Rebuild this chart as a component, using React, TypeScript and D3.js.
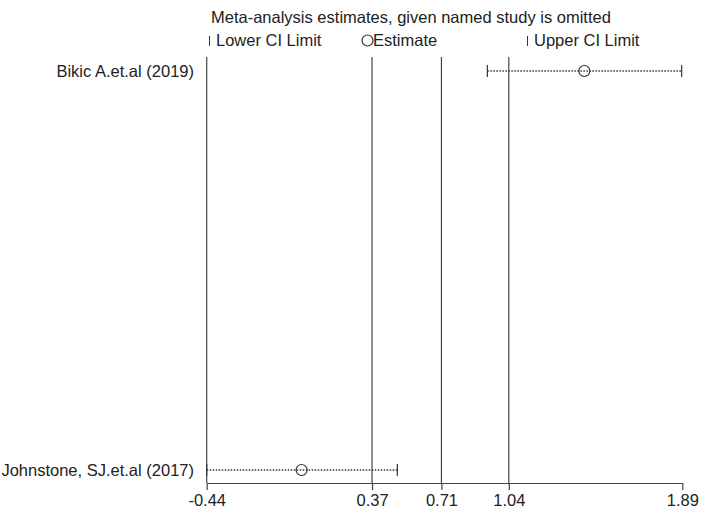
import { useEffect, useRef } from "react";
import * as d3 from "d3";

const studies = ["Bikic A.et.al (2019)", "Johnstone, SJ.et.al (2017)"];
const estimates = [1.41, 0.025];
const lowerCI = [0.935, -0.44];
const upperCI = [1.887, 0.494];
const tickValues = [-0.44, 0.37, 0.71, 1.04, 1.89];
const refLines = [0.37, 0.71, 1.04];

const FONT = "'Liberation Sans', Arial, Helvetica, sans-serif";
const FS = 16.5;

function renderPlot(element: HTMLDivElement) {
  d3.select(element).selectAll("*").remove();
  const W = 708,
    H = 520;
  const left = 206.7,
    right = 682.3,
    top = 57,
    axisY = 483;

  const svg = d3
    .select(element)
    .append("svg")
    .attr("width", W)
    .attr("height", H)
    .style("display", "block")
    .style("font-family", FONT);

  svg.append("rect").attr("width", W).attr("height", H).attr("fill", "#fff");

  const x = d3.scaleLinear().domain([-0.44, 1.89]).range([left, right]);
  const y = d3.scalePoint().domain(studies).range([71, 470]);

  // title + legend
  svg
    .append("text")
    .attr("x", 211)
    .attr("y", 23)
    .attr("font-size", FS)
    .attr("fill", "#222")
    .text("Meta-analysis estimates, given named study is omitted");

  const legend = svg.append("g").attr("font-size", FS).attr("fill", "#222");
  legend
    .append("line")
    .attr("x1", 209.5)
    .attr("x2", 209.5)
    .attr("y1", 36)
    .attr("y2", 46)
    .attr("stroke", "#333");
  legend.append("text").attr("x", 216).attr("y", 45.5).text("Lower CI Limit");
  legend
    .append("circle")
    .attr("cx", 367.5)
    .attr("cy", 40.5)
    .attr("r", 5.5)
    .attr("fill", "none")
    .attr("stroke", "#333")
    .attr("stroke-width", 1.2);
  legend.append("text").attr("x", 373).attr("y", 45.5).text("Estimate");
  legend
    .append("line")
    .attr("x1", 527.5)
    .attr("x2", 527.5)
    .attr("y1", 36)
    .attr("y2", 46)
    .attr("stroke", "#333");
  legend.append("text").attr("x", 534).attr("y", 45.5).text("Upper CI Limit");

  // y axis line at left edge and reference lines
  svg
    .append("line")
    .attr("x1", left)
    .attr("x2", left)
    .attr("y1", top)
    .attr("y2", axisY)
    .attr("stroke", "#444")
    .attr("stroke-width", 1.2);

  svg
    .selectAll(".ref")
    .data(refLines)
    .join("line")
    .attr("x1", (d) => x(d))
    .attr("x2", (d) => x(d))
    .attr("y1", top)
    .attr("y2", axisY)
    .attr("stroke", "#444")
    .attr("stroke-width", 1.2);

  // x axis
  const xAxis = svg
    .append("g")
    .attr("transform", `translate(0,${axisY})`)
    .call(
      d3
        .axisBottom(x)
        .tickValues(tickValues)
        .tickFormat((d) => (d as number).toFixed(2))
        .tickSize(7)
        .tickSizeOuter(0)
        .tickPadding(4)
    );
  xAxis.select(".domain").attr("stroke", "#444").attr("stroke-width", 1.2);
  xAxis.selectAll(".tick line").attr("stroke", "#444").attr("stroke-width", 1.2);
  xAxis
    .selectAll(".tick text")
    .attr("font-size", FS)
    .attr("font-family", FONT)
    .attr("fill", "#222");

  // study labels
  svg
    .selectAll(".lab")
    .data(studies)
    .join("text")
    .attr("x", 194)
    .attr("y", (d) => (y(d) as number) + 6)
    .attr("text-anchor", "end")
    .attr("font-size", FS)
    .attr("fill", "#222")
    .text((d) => d);

  const rows = studies.map((s, i) => ({
    s,
    est: estimates[i],
    lo: lowerCI[i],
    hi: upperCI[i],
  }));

  const g = svg.selectAll(".row").data(rows).join("g");
  g.append("line")
    .attr("x1", (d) => x(d.lo))
    .attr("x2", (d) => x(d.hi))
    .attr("y1", (d) => y(d.s) as number)
    .attr("y2", (d) => y(d.s) as number)
    .attr("stroke", "#333")
    .attr("stroke-width", 1.3)
    .attr("stroke-dasharray", "1.5,1.5");
  g.append("line")
    .attr("x1", (d) => x(d.lo))
    .attr("x2", (d) => x(d.lo))
    .attr("y1", (d) => (y(d.s) as number) - 6)
    .attr("y2", (d) => (y(d.s) as number) + 6)
    .attr("stroke", "#333")
    .attr("stroke-width", 1.2);
  g.append("line")
    .attr("x1", (d) => x(d.hi))
    .attr("x2", (d) => x(d.hi))
    .attr("y1", (d) => (y(d.s) as number) - 6)
    .attr("y2", (d) => (y(d.s) as number) + 6)
    .attr("stroke", "#333")
    .attr("stroke-width", 1.2);
  g.append("circle")
    .attr("cx", (d) => x(d.est))
    .attr("cy", (d) => y(d.s) as number)
    .attr("r", 5.5)
    .attr("fill", "none")
    .attr("stroke", "#333")
    .attr("stroke-width", 1.2);
}

export default function App() {
  const ref = useRef<HTMLDivElement>(null);
  useEffect(() => {
    if (ref.current) renderPlot(ref.current);
  }, []);
  return (
    <div
      ref={ref}
      style={{ position: "absolute", left: 0, top: 0, width: 708, height: 520 }}
    ></div>
  );
}
